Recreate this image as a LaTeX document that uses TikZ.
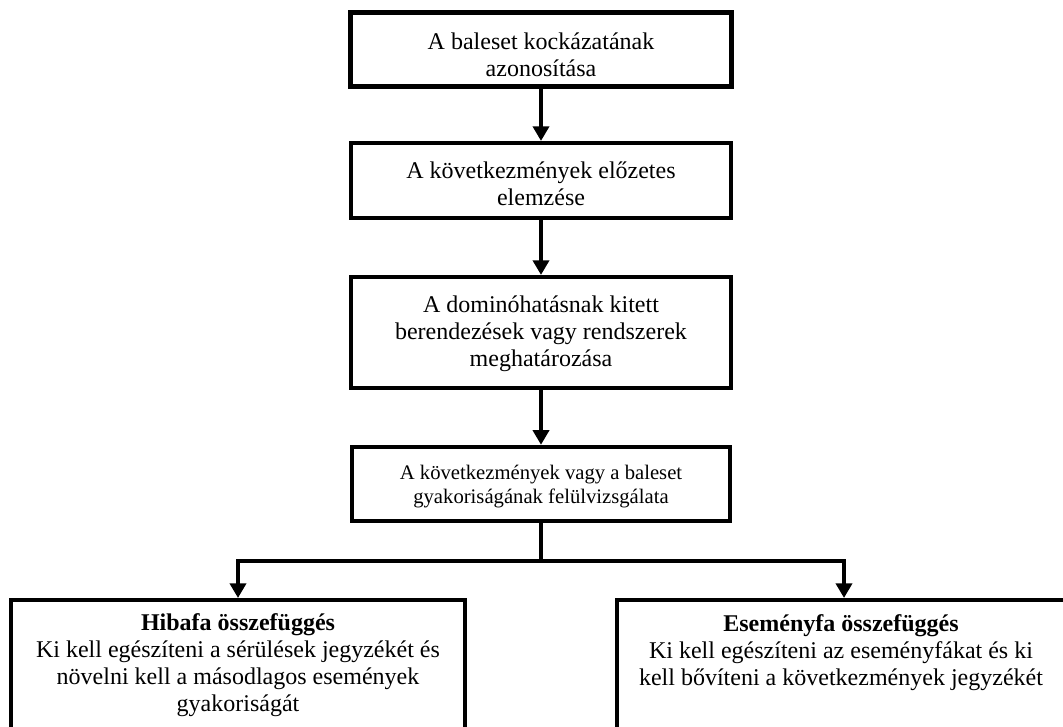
\documentclass[tikz,border=0pt]{standalone}
\usepackage{fontspec}
\setmainfont{Liberation Serif}
\usetikzlibrary{arrows.meta}
\begin{document}
\begin{tikzpicture}[x=0.75pt,y=-0.75pt,
  box/.style={draw, line width=3.3pt, align=center, inner sep=0pt,
    font=\fontsize{18}{20.3}\selectfont},
  smallbox/.style={box, font=\fontsize{15.5}{18}\selectfont},
  txt/.style={align=center, inner sep=0pt, font=\fontsize{18}{20.3}\selectfont},
  arr/.style={line width=3.3pt, -{Triangle[width=12pt,length=11pt]}}]
\useasboundingbox (0,0) rectangle (1063,727);
\clip (0,0) rectangle (1063,727);
\node[box, minimum width=286pt, minimum height=55.5pt] (b1) at (541,49.5)
  {\rule{0pt}{20pt}A baleset kockázatának\\azonosítása};
\node[box, minimum width=285pt, minimum height=56pt] (b2) at (541,180.5)
  {\rule{0pt}{17pt}A következmények előzetes\\elemzése};
\node[box, minimum width=285pt, minimum height=83pt] (b3) at (541,332.5)
  {\rule{0pt}{14pt}A dominóhatásnak kitett\\berendezések vagy rendszerek\\meghatározása};
\node[smallbox, minimum width=283.5pt, minimum height=55.5pt] (b4) at (541,484)
  {\rule{0pt}{15pt}A következmények vagy a baleset\\gyakoriságának felülvizsgálata};
\node[box, anchor=north, minimum width=340.5pt, minimum height=130pt] (hf) at (238,598) {};
\node[box, anchor=north, minimum width=340.5pt, minimum height=130pt] (ef) at (844,598) {};
\node[txt, anchor=north] (hft) at (238,613)
  {\textbf{Hibafa összefüggés}\\Ki kell egészíteni a sérülések jegyzékét és\\növelni kell a másodlagos események\\gyakoriságát};
\node[txt, anchor=north] (eft) at (841,614)
  {\textbf{Eseményfa összefüggés}\\Ki kell egészíteni az eseményfákat és ki\\kell bővíteni a következmények jegyzékét};
\coordinate (j) at (541,561);
\draw[arr] (b1) -- (b2);
\draw[arr] (b2) -- (b3);
\draw[arr] (b3) -- (b4);
\draw[line width=3.3pt] (b4.south) -- (j);
\draw[arr] (j) -| (hf.north);
\draw[arr] (j) -| (ef.north);
\end{tikzpicture}
\end{document}
